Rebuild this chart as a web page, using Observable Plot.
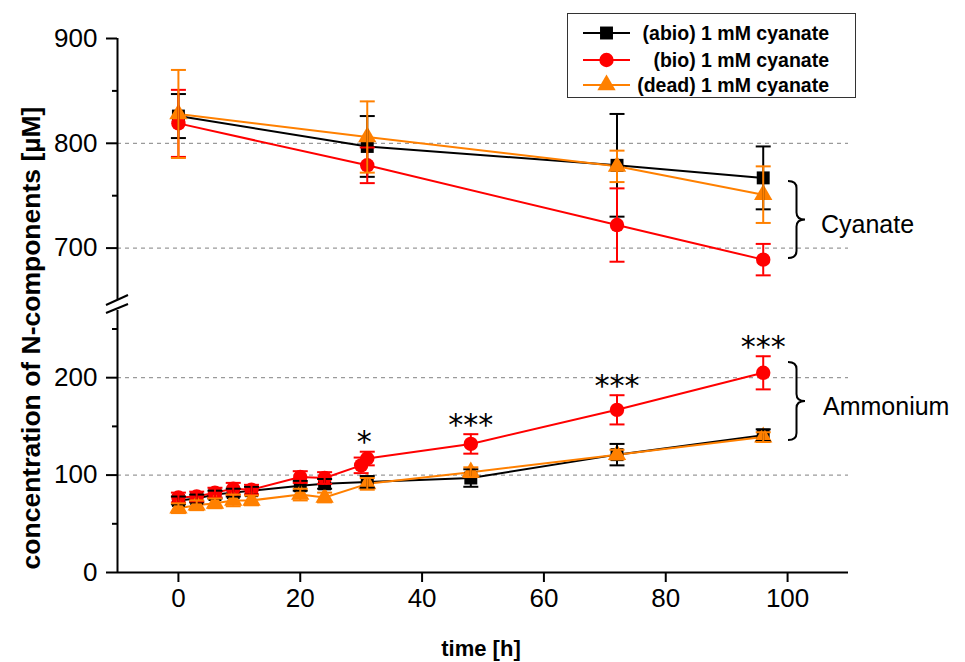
<!DOCTYPE html>
<html><head><meta charset="utf-8">
<script src="https://cdn.jsdelivr.net/npm/d3@7"></script>
<script src="https://cdn.jsdelivr.net/npm/@observablehq/plot@0.6"></script>
<style>
body{margin:0;background:#fff;}
#wrap{position:relative;width:965px;height:662px;overflow:hidden;background:#fff;}
#wrap svg{position:absolute;left:0;}
</style></head><body><div id="wrap"></div>
<script>
// ---- series meta ----
const seriesKeys = ["abio", "bio", "dead"];
const seriesNames = ["(abio) 1 mM cyanate", "(bio) 1 mM cyanate", "(dead) 1 mM cyanate"];
const seriesColors = ["#000000", "#ff0000", "#ff8000"];
const seriesSymbols = ["square", "circle", "triangle"];

// ---- cyanate (upper panel) ----
const cyanTime = [0, 31, 72, 96];
const cyanAbio = [826, 797, 779, 767];
const cyanAbioErr = [21, 29, 49, 30];
const cyanBio = [819, 779, 722, 689];
const cyanBioErr = [32, 17, 35, 15];
const cyanDead = [828, 806, 778, 751];
const cyanDeadErr = [42, 34, 15, 27];

// ---- ammonium (lower panel) ----
const ammTime = [0, 3, 6, 9, 12, 20, 24, 31, 48, 72, 96];
const ammAbio = [74, 76, 80, 82, 84, 89, 91, 93, 97, 121, 141];
const ammAbioErr = [4, 4, 4, 4, 4, 5, 5, 6, 9, 11, 6];
const ammBioTime = [0, 3, 6, 9, 12, 20, 24, 30, 31, 48, 72, 96];
const ammBio = [77, 78, 82, 86, 85, 98, 97, 110, 117, 132, 167, 205];
const ammBioErr = [5, 5, 5, 6, 5, 6, 6, 8, 7, 10, 15, 17];
const ammDead = [66, 69, 71, 74, 74, 80, 77, 91, 103, 121, 139];
const ammDeadErr = [5, 5, 5, 6, 5, 6, 5, 6, 5, 5, 5];

// ---- significance marks ----
const starTime = [30.5, 48, 72, 96];
const starLabel = ["*", "***", "***", "***"];

// ---- axes ----
const xTicks = [0, 20, 40, 60, 80, 100];
const upperTicks = [700, 800, 900];
const upperMinor = [750, 850];
const upperGrid = [700, 800];
const lowerTicks = [0, 100, 200];
const lowerMinor = [50, 150, 250];
const lowerGrid = [100, 200];

function rows(times, vals, errs, key) {
  return times.map((t, i) => ({t, v: vals[i], lo: vals[i] - errs[i], hi: vals[i] + errs[i], key}));
}
const cyan = [
  rows(cyanTime, cyanAbio, cyanAbioErr, "abio"),
  rows(cyanTime, cyanBio, cyanBioErr, "bio"),
  rows(cyanTime, cyanDead, cyanDeadErr, "dead")
];
const amm = [
  rows(ammTime, ammAbio, ammAbioErr, "abio"),
  rows(ammBioTime, ammBio, ammBioErr, "bio"),
  rows(ammTime, ammDead, ammDeadErr, "dead")
];
const bioRows = amm[1];
const stars = starTime.map((t, i) => {
  const near = bioRows.filter(d => Math.abs(d.t - t) <= 1);
  return {t, label: starLabel[i], y: d3.max(near, d => d.hi)};
});

const capSymbol = {draw(ctx) { ctx.moveTo(-7.5, 0); ctx.lineTo(7.5, 0); }};
const symR = {square: 7.3, circle: 7.2, triangle: 6.8};
const tickFont = "'Liberation Sans Narrow', 'Liberation Sans', Arial, sans-serif";

function seriesMarks(data) {
  const m = [];
  data.forEach((d, i) => m.push(Plot.line(d, {x: "t", y: "v", stroke: seriesColors[i], strokeWidth: 2})));
  data.forEach((d, i) => m.push(Plot.dot(d, {x: "t", y: "v", symbol: seriesSymbols[i], r: symR[seriesSymbols[i]], fill: seriesColors[i], stroke: "none"})));
  data.forEach((d, i) => {
    m.push(Plot.ruleX(d, {x: "t", y1: "lo", y2: "hi", stroke: seriesColors[i], strokeWidth: 2}));
    m.push(Plot.dot(d, {x: "t", y: "hi", symbol: capSymbol, stroke: seriesColors[i], fill: "none", strokeWidth: 2}));
    m.push(Plot.dot(d, {x: "t", y: "lo", symbol: capSymbol, stroke: seriesColors[i], fill: "none", strokeWidth: 2}));
  });
  return m;
}

const common = {
  width: 965, marginLeft: 117, marginRight: 117,
  style: {fontFamily: tickFont, fontSize: "26px", color: "#000", background: "transparent", overflow: "visible"},
};

const upper = Plot.plot({
  ...common,
  height: 300, marginTop: 38, marginBottom: 0,
  x: {domain: [-10, 110], axis: null},
  y: {domain: [650, 900], axis: null},
  marks: [
    Plot.ruleY(upperGrid, {stroke: "#9a9a9a", strokeWidth: 1.2, strokeDasharray: "4,4"}),
    Plot.axisY({ticks: upperTicks, tickSize: 11, tickPadding: 9, strokeWidth: 2, fontSize: 26, fontFamily: tickFont}),
    Plot.axisY({ticks: upperMinor, tickSize: 5, tickFormat: () => "", strokeWidth: 2}),
    Plot.ruleX([-10], {stroke: "#000", strokeWidth: 2}),
    ...seriesMarks(cyan)
  ]
});
upper.style.top = "0px";

const lower = Plot.plot({
  ...common,
  height: 362, marginTop: 9, marginBottom: 90,
  x: {domain: [-10, 110], axis: null},
  y: {domain: [0, 270], axis: null},
  marks: [
    Plot.ruleY(lowerGrid, {stroke: "#9a9a9a", strokeWidth: 1.2, strokeDasharray: "4,4"}),
    Plot.axisY({ticks: lowerTicks, tickSize: 11, tickPadding: 9, strokeWidth: 2, fontSize: 26, fontFamily: tickFont}),
    Plot.axisY({ticks: lowerMinor, tickSize: 5, tickFormat: () => "", strokeWidth: 2}),
    Plot.axisX({ticks: xTicks, tickSize: 10, tickPadding: 6, strokeWidth: 2, label: null, fontSize: 26, fontFamily: tickFont}),
    Plot.ruleX([-10], {stroke: "#000", strokeWidth: 2}),
    Plot.ruleY([0], {stroke: "#000", strokeWidth: 2}),
    ...seriesMarks(amm),
    Plot.text(stars, {x: "t", y: "y", text: "label", dy: -9, fontSize: 30, fontFamily: "DejaVu Sans", letterSpacing: "5px", fill: "#000"})
  ]
});
lower.style.top = "300px";

const wrap = document.getElementById("wrap");
wrap.appendChild(upper);
wrap.appendChild(lower);

// ---- overlay: titles, legend, braces, axis break ----
const ov = d3.select(wrap).append("svg").attr("width", 965).attr("height", 662).style("top", "0px");

// axis break
ov.append("rect").attr("x", 110).attr("y", 299).attr("width", 14).attr("height", 11).attr("fill", "#fff");
[[305, 295], [313, 304]].forEach(([a, b]) =>
  ov.append("line").attr("x1", 106).attr("y1", a).attr("x2", 128).attr("y2", b).attr("stroke", "#000").attr("stroke-width", 2));

// axis titles
ov.append("text").attr("transform", "translate(31,338) rotate(-90)").attr("text-anchor", "middle")
  .attr("dominant-baseline", "central")
  .style("font-family", "'Liberation Sans', Arial, sans-serif").style("font-weight", "bold").style("font-size", "26.5px")
  .text("concentration of N-components [µM]");
ov.append("text").attr("x", 481).attr("y", 648).attr("text-anchor", "middle").attr("dominant-baseline", "central")
  .style("font-family", "'Liberation Sans', Arial, sans-serif").style("font-weight", "bold").style("font-size", "22px")
  .text("time [h]");

// braces
function brace(x, y1, y2, w) {
  const xm = x + w / 2, ym = (y1 + y2) / 2, c = 7;
  return `M${x},${y1} Q${xm},${y1} ${xm},${y1 + c} L${xm},${ym - c} Q${xm},${ym} ${x + w},${ym} Q${xm},${ym} ${xm},${ym + c} L${xm},${y2 - c} Q${xm},${y2} ${x},${y2}`;
}
ov.append("path").attr("d", brace(788, 181, 258, 17)).attr("fill", "none").attr("stroke", "#000").attr("stroke-width", 2);
ov.append("path").attr("d", brace(788, 362, 440, 17)).attr("fill", "none").attr("stroke", "#000").attr("stroke-width", 2);
ov.append("text").attr("x", 821).attr("y", 224).attr("dominant-baseline", "central")
  .style("font-family", "'Liberation Sans', Arial, sans-serif").style("font-size", "25px").text("Cyanate");
ov.append("text").attr("x", 823).attr("y", 406).attr("dominant-baseline", "central")
  .style("font-family", "'Liberation Sans', Arial, sans-serif").style("font-size", "25px").text("Ammonium");

// legend
ov.append("rect").attr("x", 567.5).attr("y", 13.5).attr("width", 288).attr("height", 84)
  .attr("fill", "#fff").attr("stroke", "#333").attr("stroke-width", 1);
const legY = [33, 60, 85];
seriesNames.forEach((name, i) => {
  const y = legY[i];
  ov.append("line").attr("x1", 583).attr("x2", 630).attr("y1", y).attr("y2", y).attr("stroke", seriesColors[i]).attr("stroke-width", 2);
  ov.append("path").attr("transform", `translate(606.5,${y})`)
    .attr("d", d3.symbol(d3["symbol" + seriesSymbols[i][0].toUpperCase() + seriesSymbols[i].slice(1)], Math.PI * symR[seriesSymbols[i]] ** 2)())
    .attr("fill", seriesColors[i]);
  ov.append("text").attr("x", 829).attr("y", y).attr("text-anchor", "end").attr("dominant-baseline", "central")
    .style("font-family", "'Liberation Sans', Arial, sans-serif").style("font-weight", "bold").style("font-size", "19.5px")
    .text(name);
});
</script></body></html>
